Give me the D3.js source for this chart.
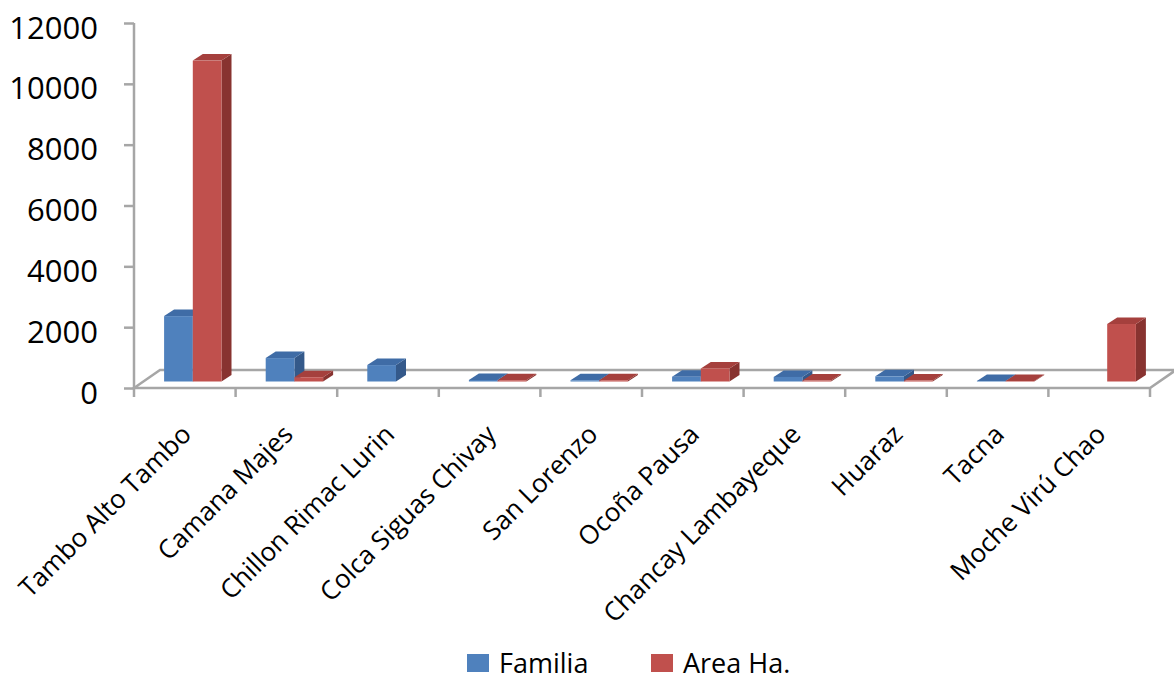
<!DOCTYPE html>
<html><head><meta charset="utf-8">
<script src="https://cdn.jsdelivr.net/npm/d3@7"></script>
<style>body{margin:0;background:#fff;} svg{display:block;} text{font-family:"Open Sans",sans-serif;fill:#000;}</style>
</head><body>
<svg id="c" width="1174" height="681"></svg>
<script>
const categories = ["Tambo Alto Tambo","Camana Majes","Chillon Rimac Lurin","Colca Siguas Chivay","San Lorenzo","Ocoña Pausa","Chancay Lambayeque","Huaraz","Tacna","Moche Virú Chao"];
const seriesNames = ["Familia","Area Ha."];
const familia = [2150, 770, 540, 50, 40, 160, 150, 170, 20, 0];
const areaHa  = [10550, 140, 0, 40, 40, 430, 30, 30, 20, 1890];
const yTicks = [0, 2000, 4000, 6000, 8000, 10000, 12000];

const svg = d3.select("#c");
const mLeft = 134, mRight = 1150, mTop = 23, mBottom = 388;
const x0 = d3.scaleBand().domain(categories).range([mLeft, mRight]).padding(0);
const x1 = d3.scaleBand().domain(seriesNames).range([0, x0.bandwidth()]).paddingInner(0).paddingOuter(0.77);
const y = d3.scaleLinear().domain([0, 12000]).range([mBottom, mTop]);

const floorDx = 26, floorDy = -18;     // floor depth
const ox = 8, oy = -6.5;               // front face offset of bars
const bdx = 10, bdy = -6.5;            // bar depth

const grey = "#a6a6a6";
// floor
svg.append("path")
  .attr("d", `M${mLeft},${mBottom} L${mLeft+floorDx},${mBottom+floorDy} L${mRight+floorDx},${mBottom+floorDy} L${mRight},${mBottom} Z`)
  .attr("fill", "#fff").attr("stroke", grey).attr("stroke-width", 2.5);

// y axis
const yAxis = svg.append("g").attr("transform", `translate(${mLeft},0)`)
  .call(d3.axisLeft(y).tickValues(yTicks).tickSize(10).tickPadding(0).tickFormat(d3.format("d")));
yAxis.select(".domain").attr("stroke", grey).attr("stroke-width", 2.5).attr("d", `M0,${mTop}V${mBottom}`);
yAxis.selectAll(".tick line").attr("stroke", grey).attr("stroke-width", 2.5);
yAxis.selectAll(".tick text").attr("x", -36).attr("dy", 15).attr("font-size", 31)
  .attr("font-family", "Open Sans").attr("fill", "#000");

// x ticks at band boundaries
const bounds = categories.map(c => x0(c)).concat([mRight]);
svg.append("g").selectAll("line").data(bounds).join("line")
  .attr("x1", d => d).attr("x2", d => d).attr("y1", mBottom).attr("y2", mBottom + 9)
  .attr("stroke", grey).attr("stroke-width", 2.5);

// x labels
const xAxis = svg.append("g").attr("transform", `translate(0,${mBottom})`)
  .call(d3.axisBottom(x0).tickSize(0).tickPadding(0));
xAxis.select(".domain").remove();
xAxis.selectAll(".tick text")
  .attr("text-anchor", "end").attr("font-size", 26).attr("font-family", "Open Sans").attr("fill", "#000")
  .attr("dy", 0).attr("y", 0)
  .attr("transform", "translate(8,48) rotate(-45)");

// bars
const colors = {
  "Familia": {front: "#4f81bd", side: "#34598a", top: "#3f6ca6"},
  "Area Ha.": {front: "#c0504d", side: "#883330", top: "#a5403d"}
};
const data = [];
categories.forEach((c, i) => {
  data.push({cat: c, s: "Familia", v: familia[i]});
  data.push({cat: c, s: "Area Ha.", v: areaHa[i]});
});
const bars = svg.append("g").selectAll("g").data(data.filter(d => d.v > 0)).join("g");
bars.each(function(d) {
  const g = d3.select(this);
  const xl = x0(d.cat) + x1(d.s) + ox;
  const xr = xl + x1.bandwidth();
  const yt = y(d.v) + oy;
  const yb = y(0) + oy;
  const col = colors[d.s];
  g.append("path").attr("d", `M${xr},${yb} L${xr+bdx},${yb+bdy} L${xr+bdx},${yt+bdy} L${xr},${yt} Z`).attr("fill", col.side);
  g.append("path").attr("d", `M${xl},${yt} L${xl+bdx},${yt+bdy} L${xr+bdx},${yt+bdy} L${xr},${yt} Z`).attr("fill", col.top);
  g.append("rect").attr("x", xl).attr("y", yt).attr("width", xr - xl).attr("height", Math.max(0, yb - yt)).attr("fill", col.front);
});

// legend
const legendX = [467, 651];
const leg = svg.append("g").selectAll("g").data(seriesNames).join("g")
  .attr("transform", (d, i) => `translate(${legendX[i]},654)`);
leg.append("rect").attr("width", 22).attr("height", 18).attr("fill", d => colors[d].front);
leg.append("text").attr("x", 32).attr("y", 19).attr("font-size", 27).text(d => d);
</script>
</body></html>
